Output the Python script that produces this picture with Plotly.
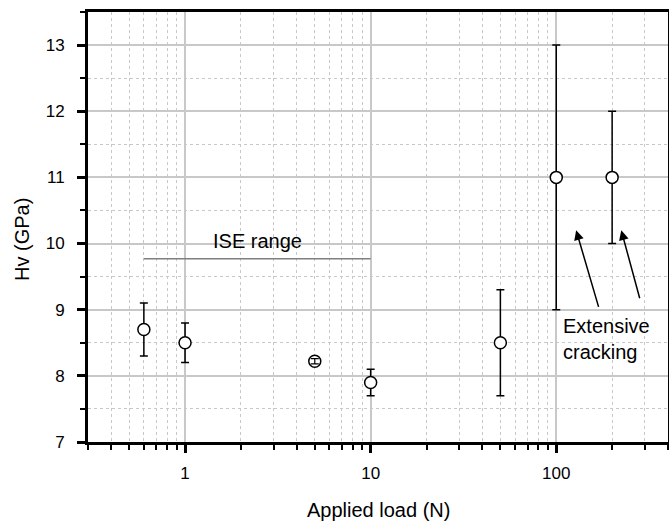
import numpy as np
import plotly.graph_objects as go

load_n = [0.6, 1, 5, 10, 50, 100, 200]
hv_gpa = [8.7, 8.5, 8.22, 7.9, 8.5, 11.0, 11.0]
hv_err = [0.4, 0.3, 0.04, 0.2, 0.8, 2.0, 1.0]

ise_x = [0.6, 10]
ise_y = [9.77, 9.77]

x_major = [1, 10, 100]
x_major_text = ["1", "10", "100"]
x_minor = [0.3, 0.4, 0.5, 0.6, 0.7, 0.8, 0.9, 2, 3, 4, 5, 6, 7, 8, 9,
           20, 30, 40, 50, 60, 70, 80, 90, 200, 300, 400]

FONT = "Liberation Sans, Arial, sans-serif"
GRID = "#c8c8c8"

W, H = 669, 521
L, R, T, B = 88, 1, 12, 79

fig = go.Figure()

fig.add_trace(go.Scatter(
    x=ise_x, y=ise_y, mode="lines",
    line=dict(color="#7f7f7f", width=1.5),
    showlegend=False, hoverinfo="skip"))

fig.add_trace(go.Scatter(
    x=load_n, y=hv_gpa, mode="markers",
    marker=dict(symbol="circle", size=12, color="white",
                line=dict(color="black", width=1.5)),
    error_y=dict(type="data", array=hv_err, visible=True,
                 color="black", thickness=1.5, width=4),
    showlegend=False))

# small error bars hidden inside the marker are drawn on top of it
small = [i for i, e in enumerate(hv_err) if e < 0.1]
fig.add_trace(go.Scatter(
    x=[load_n[i] for i in small], y=[hv_gpa[i] for i in small], mode="markers",
    marker=dict(size=1, color="rgba(0,0,0,0)"),
    error_y=dict(type="data", array=[hv_err[i] for i in small], visible=True,
                 color="black", thickness=1.2, width=4),
    showlegend=False, hoverinfo="skip"))

fig.add_annotation(x=np.log10(2.47), y=10.04, xref="x", yref="y",
                   text="ISE range", showarrow=False,
                   font=dict(family=FONT, size=20, color="black"))

fig.add_annotation(x=np.log10(100) + (562 - 557) / 185.6, y=8.55, xref="x", yref="y",
                   text="Extensive<br>cracking", showarrow=False, align="left",
                   xanchor="left", yanchor="middle",
                   font=dict(family=FONT, size=20, color="black"))

arrows = [((128, 10.2), (170, 9.02)), ((224, 10.2), (283, 9.15))]
for (tx, ty), (sx, sy) in arrows:
    fig.add_annotation(x=np.log10(tx), y=ty, ax=np.log10(sx), ay=sy,
                       xref="x", yref="y", axref="x", ayref="y",
                       text="", showarrow=True, arrowhead=2, arrowsize=1.3,
                       arrowwidth=1.5, arrowcolor="black")

# axis titles
fig.add_annotation(x=(378 - L) / (W - L - R), y=-(510 - (H - B)) / (H - T - B),
                   xref="paper", yref="paper", text="Applied load (N)",
                   showarrow=False, xanchor="center", yanchor="middle",
                   font=dict(family=FONT, size=20, color="black"))
fig.add_annotation(x=-(L - 22) / (W - L - R), y=(H - B - 240) / (H - T - B),
                   xref="paper", yref="paper", text="Hv (GPa)", textangle=-90,
                   showarrow=False, xanchor="center", yanchor="middle",
                   font=dict(family=FONT, size=20, color="black"))

fig.update_layout(
    width=W, height=H,
    margin=dict(l=L, r=R, t=T, b=B, autoexpand=False),
    plot_bgcolor="white", paper_bgcolor="white",
    font=dict(family=FONT, size=17, color="black"),
    xaxis=dict(
        type="log", range=[np.log10(0.3), np.log10(400)],
        tickmode="array", tickvals=x_major, ticktext=x_major_text,
        ticks="outside", ticklen=8, tickwidth=2.5, tickcolor="black",
        ticklabelstandoff=6, automargin=False,
        showline=True, linewidth=3, linecolor="black", mirror=True,
        showgrid=True, gridcolor=GRID, gridwidth=1.5,
        minor=dict(tickmode="array", tickvals=x_minor, ticks="outside",
                   ticklen=5, tickwidth=2, tickcolor="black",
                   showgrid=True, gridcolor=GRID, gridwidth=1, griddash="3px,3px"),
        zeroline=False,
    ),
    yaxis=dict(
        range=[7, 13.5], tickmode="linear", tick0=7, dtick=1,
        ticks="outside", ticklen=8, tickwidth=2.5, tickcolor="black",
        ticklabelstandoff=9, automargin=False,
        showline=True, linewidth=3, linecolor="black", mirror=True,
        showgrid=True, gridcolor=GRID, gridwidth=1.5,
        minor=dict(tickmode="linear", dtick=0.5, ticks="outside",
                   ticklen=5, tickwidth=2, tickcolor="black",
                   showgrid=True, gridcolor=GRID, gridwidth=1, griddash="3px,3px"),
        zeroline=False,
    ),
)

fig.write_html("out.html", config={"displayModeBar": False},
               post_script="document.body.style.margin='0';document.body.style.overflow='hidden';")
